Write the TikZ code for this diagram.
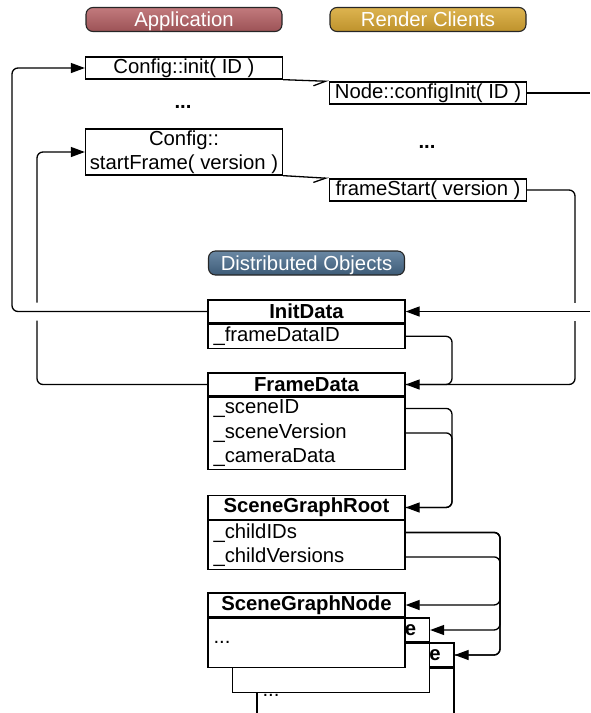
\documentclass[tikz,border=0pt]{standalone}
\usepackage{fontspec}
\setmainfont{Liberation Sans}
\usetikzlibrary{arrows.meta}
\definecolor{appT}{HTML}{C27A7D}
\definecolor{appB}{HTML}{9C5256}
\definecolor{rcT}{HTML}{DDB450}
\definecolor{rcB}{HTML}{BE922C}
\definecolor{doT}{HTML}{6A88A4}
\definecolor{doB}{HTML}{3D5B77}
\begin{document}
\begin{tikzpicture}[x=1pt,y=-1pt,
  every node/.style={font=\fontsize{20.3}{24.5}\selectfont, inner sep=0pt},
  box/.style={draw, line width=1.3pt, fill=white, minimum width=197pt},
  hdr/.style={box, font=\bfseries\fontsize{20.3}{24.5}\selectfont},
  bodybox/.style={box, text width=186pt, align=left, inner xsep=5.5pt},
  bolddots/.style={font=\bfseries\fontsize{20.3}{24.5}\selectfont},
  badge/.style={draw=black!85, line width=1.1pt, rounded corners=7pt, minimum width=196pt, minimum height=24pt, text height=14.5pt, text depth=0pt, text=white},
  conn/.style={line width=1.3pt, rounded corners=6pt},
  arr/.style={conn, -{Triangle[length=14pt,width=10pt]}},
  harp/.style={line width=1.3pt, -{Straight Barb[harpoon,swap,length=12pt,width=10pt]}},
  jump/.style={preaction={draw=white, line width=18pt, -, shorten <=2pt, shorten >=2pt}}
]
\useasboundingbox (0,0) rectangle (590,713);
\begin{scope}
\clip (0,0) rectangle (590,713);

% badges
\node[badge, top color=appT, bottom color=appB] (app) at (184,19.5) {Application};
\node[badge, top color=rcT, bottom color=rcB] (rc) at (428,19.5) {Render Clients};
\node[badge, top color=doT, bottom color=doB] (dist) at (306.5,263) {Distributed Objects};

% calls
\node[box, minimum height=22pt] (cinit) at (184,68) {Config::init( ID )};
\node[bolddots] (dotsA) at (183,107) {...};
\node[box, minimum height=22pt] (ninit) at (428,93) {Node::configInit( ID )};
\node[box, minimum height=46pt, align=center] (cstart) at (184,152) {Config::\\startFrame( version )};
\node[bolddots] (dotsB) at (427,147) {...};
\node[box, minimum height=22pt] (fstart) at (428,190) {frameStart( version )};

% distributed objects
\node[hdr, minimum height=23pt] (initH) at (306.5,311.5) {InitData};
\node[bodybox, minimum height=24pt, anchor=north] (initB) at (initH.south) {\_frameDataID};

\node[hdr, minimum height=23pt] (frameH) at (306.5,384.5) {FrameData};
\node[bodybox, minimum height=72pt, anchor=north] (frameB) at (frameH.south) {\_sceneID\\\_sceneVersion\\\_cameraData};

\node[hdr, minimum height=24pt] (rootH) at (306.5,507.5) {SceneGraphRoot};
\node[bodybox, minimum height=49pt, anchor=north] (rootB) at (rootH.south) {\_childIDs\\\_childVersions};

\node[hdr, minimum height=24pt] (sgnC) at (355.5,655) {SceneGraphNode};
\node[bodybox, minimum height=55pt, anchor=north] (sgnCB) at (sgnC.south) {...};
\node[hdr, minimum height=24pt] (sgnB) at (331,630) {SceneGraphNode};
\node[bodybox, minimum height=49pt, anchor=north] (sgnBB) at (sgnB.south) {...};
\node[hdr, minimum height=24pt] (sgnA) at (306.5,605) {SceneGraphNode};
\node[bodybox, minimum height=49pt, anchor=north] (sgnAB) at (sgnA.south) {...};

% helper coordinates
\coordinate (xL1) at (12,0);
\coordinate (xL2) at (37,0);
\coordinate (xR) at (575,0);
\coordinate (xM1) at (452,0);
\coordinate (xM2) at (500,0);
\coordinate (edgeA) at (590,93);
\coordinate (edgeB) at (590,311.5);

% connectors
\draw[harp] (cinit.south east) -- (ninit.north west);
\draw[harp] (cstart.south east) -- (fstart.north west);

\draw[arr] (frameH.west) -- (xL2 |- frameH.west) -- (xL2 |- cstart.west) -- (cstart.west);
\draw[arr, jump] (initH.west) -- (xL1 |- initH.west) -- (xL1 |- cinit.west) -- (cinit.west);

\draw[conn] (ninit.east) -- (edgeA);
\draw[arr] (fstart.east) -- (xR |- fstart.east) -- (xR |- frameH.east) -- (frameH.east);
\draw[arr, jump] (edgeB) -- (initH.east);
\draw[conn] (initB.east) -- (xM1 |- initB.east) -- (xM1 |- frameH.east) -- (frameH.east);

\draw[arr] ([yshift=-11.75pt]frameB.north east) -| (xM1 |- rootH.east) -- (rootH.east);
\draw[conn] ([yshift=-36.25pt]frameB.north east) -| (xM1 |- rootH.east) -- (rootH.east);

\draw[arr] ([yshift=-12.25pt]rootB.north east) -| (xM2 |- sgnA.east) -- (sgnA.east);
\draw[arr] ([yshift=-12.25pt]rootB.north east) -| (xM2 |- sgnB.east) -- (sgnB.east);
\draw[arr] ([yshift=-12.25pt]rootB.north east) -| (xM2 |- sgnC.east) -- (sgnC.east);
\draw[conn] ([yshift=-36.75pt]rootB.north east) -| (xM2 |- sgnC.east) -- (sgnC.east);
\end{scope}
\end{tikzpicture}
\end{document}
